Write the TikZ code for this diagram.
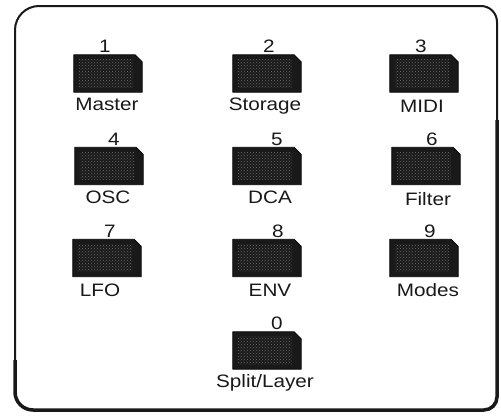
\documentclass[tikz,border=0pt]{standalone}
\usepackage{fontspec}
\newfontfamily\labf[FakeStretch=1.15]{Liberation Sans}
\usetikzlibrary{patterns}
\begin{document}
\begin{tikzpicture}[x=1pt,y=-1pt,
  key/.style={rectangle, minimum width=68pt, minimum height=37pt, inner sep=0pt},
  keybody/.style={fill=black!90, draw=black, line width=0.8pt, line join=round},
  keyface/.style={pattern=crosshatch dots, pattern color=black!58},
  txt/.style={font=\labf\fontsize{18}{20}\selectfont, text=black!90, inner sep=0pt, anchor=base},
  frame/.style={draw=black!90}
]
\useasboundingbox[fill=white] (0,0) rectangle (501,418);
% frame
\draw[frame, line width=2pt] (15,200) [rounded corners=24pt] -- (15,6) [rounded corners=16pt] -- (497,6) [rounded corners=13pt] -- (497,410) [rounded corners=18pt] -- (15,410) [sharp corners] -- cycle;
\draw[frame, line width=3.5pt] (497,120) [rounded corners=13pt] -- (497,410) [rounded corners=18pt] -- (15,410) [sharp corners] -- (15,360);
% keys
\node[key] (k1) at (108,73.5) {};
\node[key] (k2) at (267,73.5) {};
\node[key] (k3) at (424,73.5) {};
\node[key] (k4) at (109,166) {};
\node[key] (k5) at (267,166) {};
\node[key] (k6) at (426,166) {};
\node[key] (k7) at (107,258) {};
\node[key] (k8) at (267,258) {};
\node[key] (k9) at (424,258) {};
\node[key] (k0) at (267,350.5) {};
\foreach \k in {k1,k2,k3,k4,k5,k6,k7,k8,k9,k0}{
  \path[keybody] (\k.south west) -- (\k.south east) -- ([yshift=-7pt]\k.north east)
     -- ([xshift=-7pt]\k.north east) -- (\k.north west) -- cycle;
  \path[keyface] ([shift={(5pt,5pt)}]\k.south west) rectangle ([shift={(-9pt,-5pt)}]\k.north east);
}
% numbers
\node[txt] (n1) at (105,52) {1};
\node[txt] (n2) at (269,52) {2};
\node[txt] (n3) at (421,52) {3};
\node[txt] (n4) at (114,145) {4};
\node[txt] (n5) at (277,145) {5};
\node[txt] (n6) at (432,145) {6};
\node[txt] (n7) at (110,237) {7};
\node[txt] (n8) at (278,237) {8};
\node[txt] (n9) at (430,237) {9};
\node[txt] (n0) at (277,329) {0};
% names
\node[txt] (l1) at (107,110) {Master};
\node[txt] (l2) at (265,110) {Storage};
\node[txt] (l3) at (422,112) {MIDI};
\node[txt] (l4) at (108,203) {OSC};
\node[txt] (l5) at (270,203) {DCA};
\node[txt] (l6) at (428,205) {Filter};
\node[txt] (l7) at (100,296) {LFO};
\node[txt] (l8) at (270,296) {ENV};
\node[txt] (l9) at (428,296) {Modes};
\node[txt] (l0) at (265,387) {Split/Layer};
\end{tikzpicture}
\end{document}
